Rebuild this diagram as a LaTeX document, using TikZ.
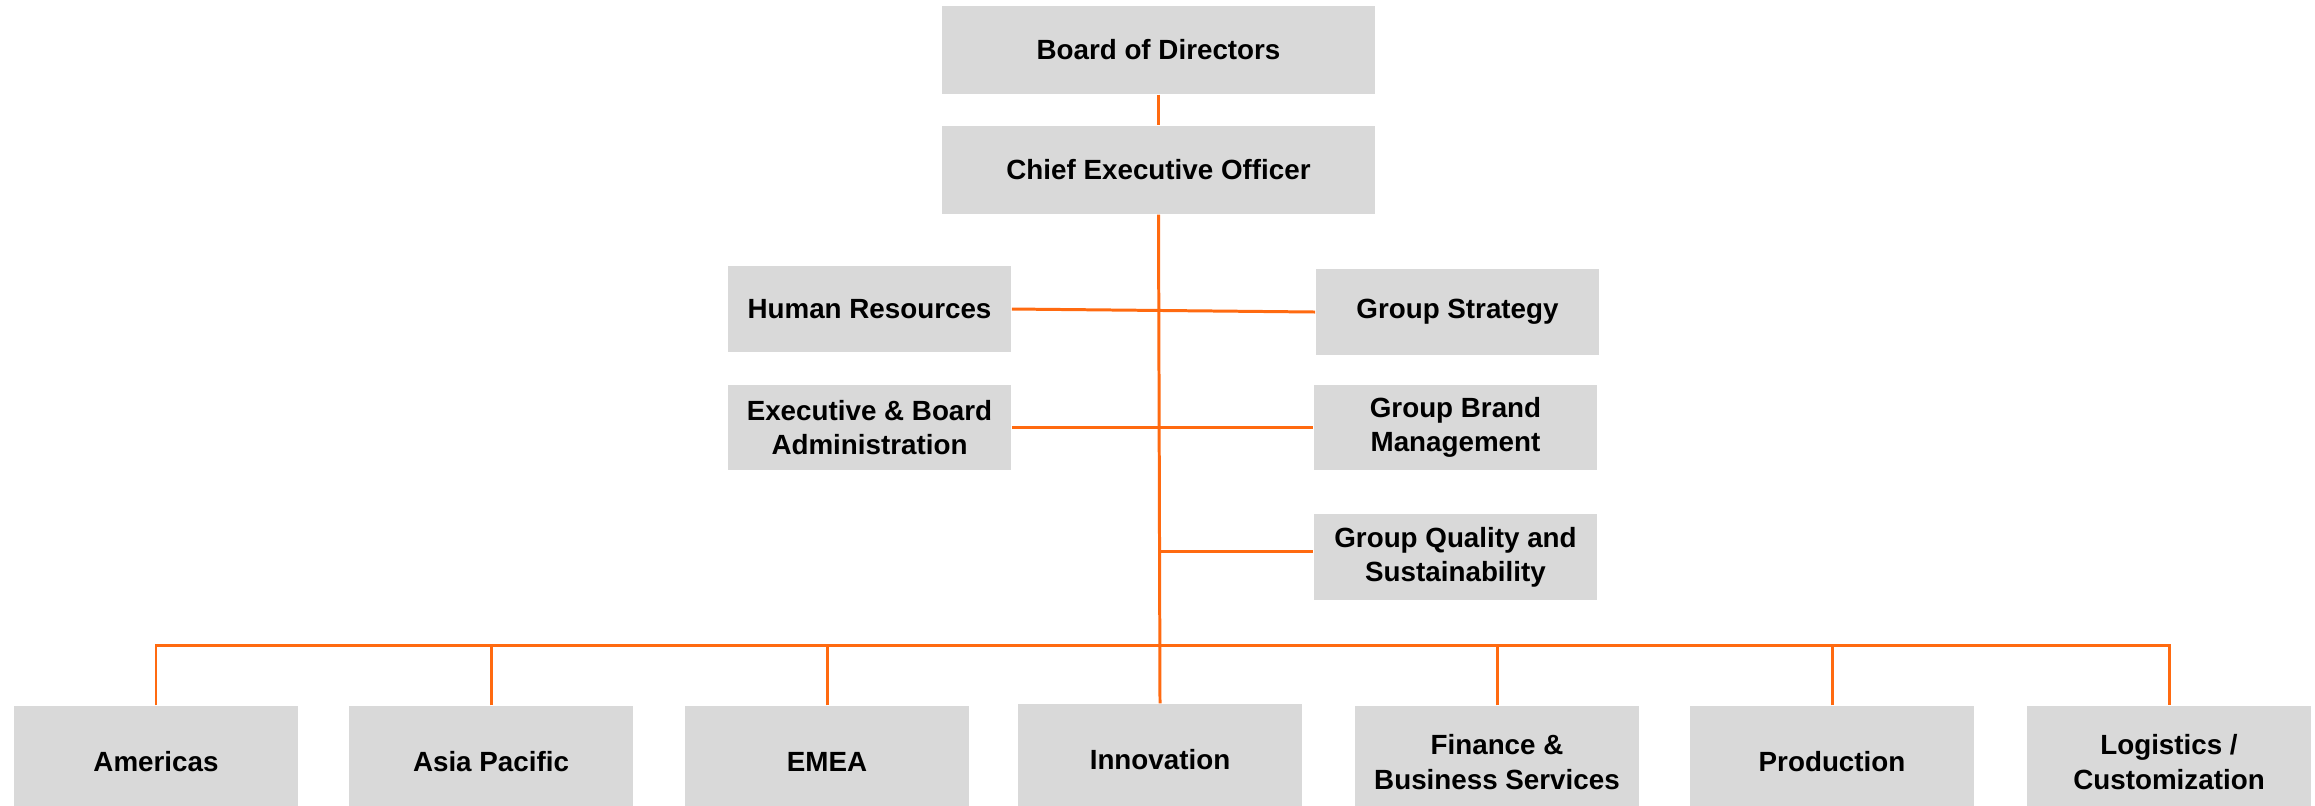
\documentclass[tikz,border=0pt]{standalone}
\usepackage{fontspec}
\setmainfont{Liberation Sans}
\usepackage{xcolor}
\definecolor{orgline}{HTML}{FF6A10}
\definecolor{orgbox}{HTML}{D9D9D9}

\begin{document}
\begin{tikzpicture}[x=0.01cm, y=-0.01cm,
    unit/.style={fill=orgbox, inner sep=0pt, align=center,
        font=\fontsize{7.9}{9.7}\selectfont\bfseries},
    topunit/.style={unit, minimum width=4.33cm, minimum height=0.88cm},
    staffunit/.style={unit, minimum width=2.83cm, minimum height=0.85cm},
    divunit/.style={unit, minimum width=2.83cm, minimum height=1.12cm},
    link/.style={orgline, line width=0.85pt}]
    \useasboundingbox (0,0) rectangle (2315,805);

    % Board and CEO
    \node[topunit] (board) at (1158.5,50) {Board of Directors};
    \node[topunit] (ceo) at (1158.5,170) {Chief Executive Officer};

    % Staff functions
    \node[staffunit] (hr) at (869.5,309) {Human Resources};
    \node[staffunit] (gs) at (1457.5,312) {Group Strategy};
    \node[staffunit] (eba) at (869.5,427.5) {Executive \& Board\\Administration};
    \node[staffunit] (gbm) at (1455.5,427.5) {Group Brand\\Management};
    \node[staffunit] (gqs) at (1455.5,557) {Group Quality and\\Sustainability};

    % Divisions
    \node[divunit] (am) at (156,762) {Americas};
    \node[divunit] (ap) at (491,762) {Asia Pacific};
    \node[divunit] (emea) at (827,762) {EMEA};
    \node[divunit] (inno) at (1160,760) {Innovation};
    \node[divunit] (fbs) at (1497,762) {Finance \&\\Business Services};
    \node[divunit] (prod) at (1832,762) {Production};
    \node[divunit] (lc) at (2169,762) {Logistics /\\Customization};

    % Reporting lines
    \draw[link] (board.south) -- (ceo.south |- board.south) -- (ceo.north);
    \draw[link] (ceo.south) -- (inno.north);
    \draw[link] (hr.east) -- (gs.west);
    \draw[link] (eba.east) -- (gbm.west);
    \coordinate (gqsin) at ([yshift=0.06cm]gqs.west);
    \draw[link] (gqsin) -- (gqsin -| inno.north);

    % Division bus
    \coordinate (bus) at (1160,645);
    \draw[link] (am.north) |- (bus) -| (lc.north);
    \draw[link] (ap.north) -- (ap.north |- bus);
    \draw[link] (emea.north) -- (emea.north |- bus);
    \draw[link] (fbs.north) -- (fbs.north |- bus);
    \draw[link] (prod.north) -- (prod.north |- bus);
\end{tikzpicture}
\end{document}
